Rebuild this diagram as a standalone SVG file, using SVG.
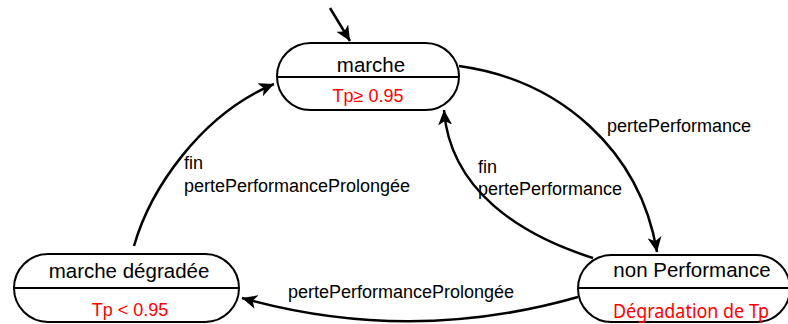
<svg xmlns="http://www.w3.org/2000/svg" width="788" height="324" viewBox="0 0 788 324">
<style>
.node{fill:#fff;stroke:#000;stroke-width:2}
.div{stroke:#000;stroke-width:2}
.lbl{font-family:"Liberation Sans",Arial,sans-serif;font-size:20.5px;fill:#000;text-anchor:middle}
.red{font-family:"Liberation Sans",Arial,sans-serif;font-size:18px;fill:#f00;text-anchor:middle}
.redc{font-family:"Noto Sans","Open Sans",sans-serif;font-size:19px;fill:#f00;text-anchor:middle}
.edge{fill:none;stroke:#000;stroke-width:2.5}
.elbl{font-family:"Liberation Sans",Arial,sans-serif;font-size:18px;fill:#000}
</style>
<defs>
<marker id="arr" markerUnits="userSpaceOnUse" markerWidth="16" markerHeight="14" viewBox="0 0 16 14" refX="15" refY="7" orient="auto">
<path d="M0,0 L15,7 L0,14 L4,7 z" fill="#000"/>
</marker>
</defs>
<g id="edges">
<path class="edge" d="M330,8 L350,41" marker-end="url(#arr)"/>
<path class="edge" d="M459,66 C560,80 640,150 657,252" marker-end="url(#arr)"/>
<path class="edge" d="M593,258 C520,235 450,190 444,110" marker-end="url(#arr)"/>
<path class="edge" d="M578,297 Q410,345 242,298" marker-end="url(#arr)"/>
<path class="edge" d="M134,246 C150,190 200,115 274,84" marker-end="url(#arr)"/>
</g>
<g id="labels">
<text class="elbl" x="607" y="132">pertePerformance</text>
<text class="elbl" x="478" y="173">fin</text>
<text class="elbl" x="478" y="195">pertePerformance</text>
<text class="elbl" x="184" y="169">fin</text>
<text class="elbl" x="184" y="192">pertePerformanceProlongée</text>
<text class="elbl" x="288" y="298">pertePerformanceProlongée</text>
</g>
<g id="marche">
<rect class="node" x="277" y="43" width="182" height="67" rx="33.5"/>
<line class="div" x1="277" y1="77" x2="459" y2="77"/>
<text class="lbl" x="371" y="72">marche</text>
<text class="red" x="368" y="102">Tp≥ 0.95</text>
</g>
<g id="marche-degradee">
<rect class="node" x="14" y="254" width="225" height="68" rx="34"/>
<line class="div" x1="14" y1="288" x2="239" y2="288"/>
<text class="lbl" x="129" y="278">marche dégradée</text>
<text class="red" x="130" y="316">Tp &lt; 0.95</text>
</g>
<g id="non-performance">
<rect class="node" x="578" y="255" width="212" height="67" rx="33.5"/>
<line class="div" x1="578" y1="288" x2="790" y2="288"/>
<text class="lbl" x="692" y="277">non Performance</text>
<text class="redc" x="691" y="318" textLength="156" lengthAdjust="spacingAndGlyphs">Dégradation de Tp</text>
</g>
</svg>
